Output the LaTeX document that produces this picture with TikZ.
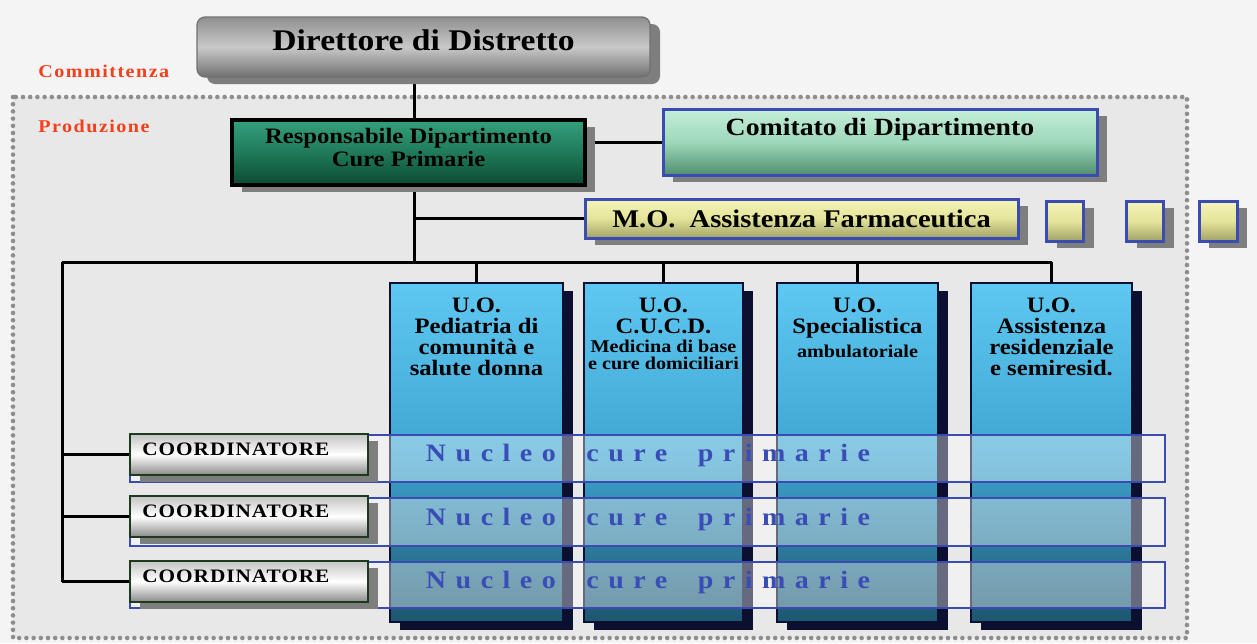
\documentclass[tikz,border=0pt]{standalone}
\usepackage{fontspec}
\setmainfont{Liberation Serif}[FakeStretch=1.12]
\newfontfamily\nucleofont{Liberation Serif}[FakeStretch=1.12,LetterSpace=38]
\newfontfamily\coordfont{Liberation Serif}[FakeStretch=1.12,LetterSpace=5]
\newfontfamily\redfont{Liberation Serif}[FakeStretch=1.12,LetterSpace=8]
\usetikzlibrary{shadows}
\definecolor{bgout}{HTML}{F4F4F4}
\definecolor{bgin}{HTML}{E8E8E8}
\definecolor{dotgrey}{HTML}{8E8E8E}
\definecolor{redtxt}{HTML}{F5401E}
\definecolor{boxblue}{HTML}{3A4CB4}
\definecolor{navy}{HTML}{0B1030}
\definecolor{shadowgrey}{HTML}{7E7E7E}
\definecolor{nucleoblue}{HTML}{3A4DB6}
\definecolor{dirtop}{HTML}{8F8F8F}
\definecolor{dirmid}{HTML}{C9C9C9}
\definecolor{dirbot}{HTML}{707070}
\definecolor{resptop}{HTML}{35A07E}
\definecolor{respmid}{HTML}{1F7A5A}
\definecolor{respbot}{HTML}{0C4A32}
\definecolor{comtop}{HTML}{C4EED8}
\definecolor{commid}{HTML}{9ED8BA}
\definecolor{combot}{HTML}{4E8E6E}
\definecolor{yeltop}{HTML}{F4F4B8}
\definecolor{yelmid}{HTML}{E4E49A}
\definecolor{yelbot}{HTML}{A2A268}
\definecolor{coltop}{HTML}{5EC8F2}
\definecolor{colmid}{HTML}{3FA6D2}
\definecolor{colbot}{HTML}{1D5670}
\definecolor{cootop}{HTML}{C4C4C4}
\definecolor{coobot}{HTML}{8A8A8A}
\definecolor{cooborder}{HTML}{1E3A1E}
\pgfdeclarelayer{bg}
\pgfdeclarelayer{wires}
\pgfsetlayers{bg,wires,main}
\tikzset{
  greyshadow/.style={general shadow={fill=shadowgrey, shadow xshift=5pt, shadow yshift=-3.5pt}},
  dirbox/.style={greyshadow, draw=dirbot, line width=0.6pt, rounded corners=4pt,
    top color=dirtop, bottom color=dirbot, middle color=dirmid,
    minimum width=226.5pt, minimum height=30pt, inner sep=0pt},
  respbox/.style={greyshadow, draw=black, line width=1.6pt,
    top color=resptop, bottom color=respbot, middle color=respmid,
    minimum width=176.5pt, minimum height=32.5pt, inner sep=0pt},
  resptext/.style={inner sep=0pt, align=center, font=\bfseries\fontsize{11}{11.5}\selectfont},
  combox/.style={greyshadow, draw=boxblue, line width=1.5pt,
    top color=comtop, bottom color=combot, middle color=commid,
    minimum width=217pt, minimum height=33pt, inner sep=0pt},
  yelbox/.style={greyshadow, draw=boxblue, line width=1.5pt,
    top color=yeltop, bottom color=yelbot, middle color=yelmid, inner sep=0pt},
  colbox/.style={general shadow={fill=navy, shadow xshift=5pt, shadow yshift=-4pt},
    draw=navy, line width=1pt, top color=coltop, bottom color=colbot, middle color=colmid,
    minimum height=169.5pt, inner sep=0pt},
  bandbox/.style={draw=boxblue, line width=1.2pt, fill=white, fill opacity=0.38,
    minimum width=517.5pt, inner sep=0pt},
  coobox/.style={general shadow={fill=shadowgrey, shadow xshift=5pt, shadow yshift=-3.5pt},
    draw=cooborder, line width=1pt, top color=cootop, bottom color=coobot, middle color=white,
    minimum width=119pt, minimum height=20.5pt, inner sep=0pt},
  bigtext/.style={inner sep=0pt, font=\bfseries\fontsize{15}{15}\selectfont},
  comtext/.style={inner sep=0pt, font=\bfseries\fontsize{12.4}{13}\selectfont},
  coltext/.style={inner sep=0pt, align=center, font=\bfseries\fontsize{11}{10.5}\selectfont},
  colsmall/.style={inner sep=0pt, align=center, font=\bfseries\fontsize{9}{8.5}\selectfont},
  cootext/.style={inner sep=0pt, font=\coordfont\bfseries\fontsize{9.5}{10}\selectfont},
  nucleotext/.style={inner sep=0pt, text=nucleoblue, font=\nucleofont\bfseries\fontsize{12.5}{12.5}\selectfont},
  redlabel/.style={inner sep=0pt, text=redtxt, font=\redfont\bfseries\fontsize{9}{9}\selectfont},
  conn/.style={draw=black, line width=1.5pt},
  dotframe/.style={draw=dotgrey, line width=2.3pt, line cap=round, dash pattern=on 0pt off 3.6pt}
}
\begin{document}
\begin{tikzpicture}[x=0.5pt,y=-0.5pt]
\useasboundingbox (0,0) rectangle (1257,643);
\begin{pgfonlayer}{bg}
  \fill[bgout] (0,0) rectangle (1257,643);
  \fill[bgin] (13,97) rectangle (1187,638);
  \draw[dotframe] (13,97) rectangle (1187,638);
\end{pgfonlayer}

% labels
\node[redlabel, anchor=base west] (comm) at (38,77) {Committenza};
\node[redlabel, anchor=base west] (prod) at (38,132) {Produzione};

% top boxes
\node[dirbox] (dir) at (423.5,47) {};
\node[bigtext, anchor=base] (dirt) at (423.5,50) {Direttore di Distretto};
\node[respbox] (resp) at (408.5,152.5) {};
\node[resptext] (respt) at (408.5,147) {Responsabile Dipartimento\\Cure Primarie};
\node[combox] (com) at (880,142) {};
\node[comtext, anchor=base] (comt) at (880,135) {Comitato di Dipartimento};
\node[yelbox, minimum width=216.5pt, minimum height=19.5pt,
      font=\bfseries\fontsize{12.7}{13}\selectfont] (mo) at (801.5,218.5) {M.O.\ \ Assistenza Farmaceutica};
\node[yelbox, minimum width=18.5pt, minimum height=20pt] (sq1) at (1065,221) {};
\node[yelbox, minimum width=18.5pt, minimum height=20pt] (sq2) at (1145,221) {};
\node[yelbox, minimum width=19pt, minimum height=20pt] (sq3) at (1218,221) {};

% columns
\node[colbox, minimum width=86.5pt] (c1) at (476.5,452.5) {};
\node[colbox, minimum width=79.5pt] (c2) at (663.5,452.5) {};
\node[colbox, minimum width=80.5pt] (c3) at (857.5,452.5) {};
\node[colbox, minimum width=80.5pt] (c4) at (1051.5,452.5) {};
\node[coltext, anchor=north] (t1) at (476.5,298) {U.O.\\Pediatria di\\comunità e\\salute donna};
\node[coltext, anchor=north] (t2a) at (663.5,298) {U.O.\\C.U.C.D.};
\node[colsmall, anchor=north] (t2b) at ([yshift=-2.5pt]t2a.south) {Medicina di base\\e cure domiciliari};
\node[coltext, anchor=north] (t3a) at (857.5,298) {U.O.\\Specialistica};
\node[colsmall, anchor=north] (t3b) at ([yshift=-3pt]t3a.south) {ambulatoriale};
\node[coltext, anchor=north] (t4) at (1051.5,298) {U.O.\\Assistenza\\residenziale\\e semiresid.};

% bands
\node[bandbox, minimum height=23.5pt] (b1) at (647.5,458.5) {};
\node[bandbox, minimum height=24pt] (b2) at (647.5,522) {};
\node[bandbox, minimum height=23pt] (b3) at (647.5,585) {};
\node[nucleotext, anchor=base] (n1) at (648,461) {Nucleo\hspace{7pt} cure\hspace{7pt} primarie};
\node[nucleotext, anchor=base] (n2) at (648,525) {Nucleo\hspace{7pt} cure\hspace{7pt} primarie};
\node[nucleotext, anchor=base] (n3) at (648,588) {Nucleo\hspace{7pt} cure\hspace{7pt} primarie};

% coordinators
\node[coobox] (k1) at (249,454.5) {};
\node[coobox] (k2) at (249,516.5) {};
\node[coobox] (k3) at (249,581.5) {};
\node[cootext, anchor=base west] (k1t) at ([shift={(13,22)}]k1.north west) {COORDINATORE};
\node[cootext, anchor=base west] (k2t) at ([shift={(13,22)}]k2.north west) {COORDINATORE};
\node[cootext, anchor=base west] (k3t) at ([shift={(13,22)}]k3.north west) {COORDINATORE};

% connectors
\begin{pgfonlayer}{wires}
  \coordinate (spine) at (414,262);
  \coordinate (busL) at (62,262);
  \draw[conn] (spine |- dir.south) -- (spine |- resp.north);
  \draw[conn] (spine |- resp.south) -- (spine);
  \draw[conn] (com.west -| resp.east) -- (com.west);
  \draw[conn] (mo.west -| spine) -- (mo.west);
  \draw[conn] (busL) -- (busL -| c4.north);
  \foreach \c in {c1,c2,c3,c4} \draw[conn] (busL -| \c.north) -- (\c.north);
  \draw[conn] (busL) -- (busL |- k3.west);
  \foreach \k in {k1,k2,k3} \draw[conn] (busL |- \k.west) -- (\k.west);
\end{pgfonlayer}
\end{tikzpicture}
\end{document}
